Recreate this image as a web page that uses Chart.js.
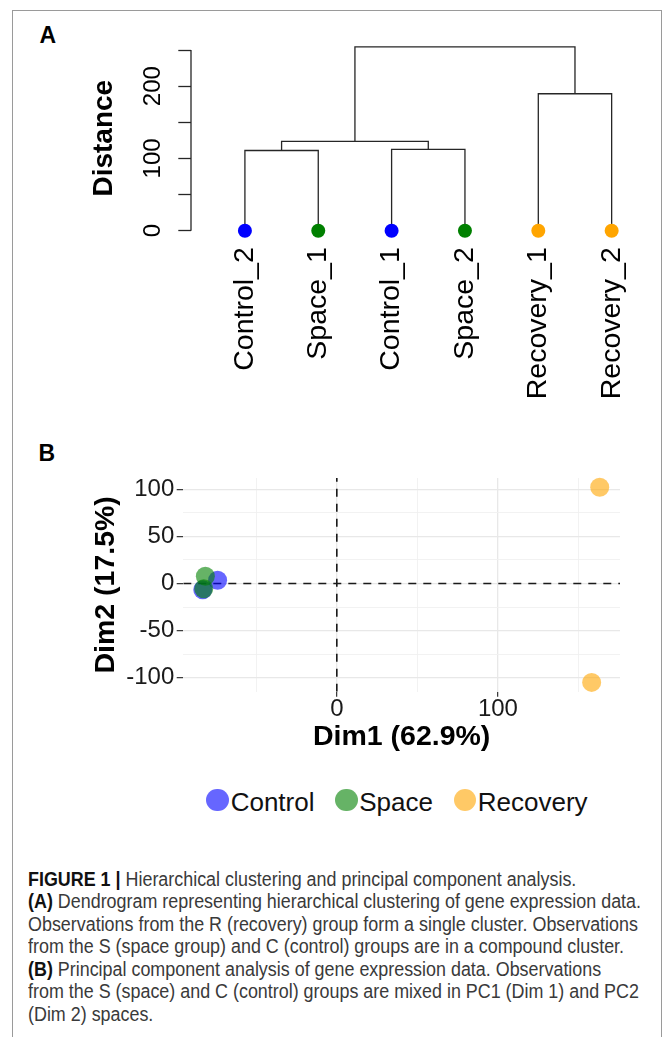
<!DOCTYPE html>
<html>
<head>
<meta charset="utf-8">
<script src="https://cdn.jsdelivr.net/npm/chart.js@4.4.0/dist/chart.umd.min.js"></script>
<style>
  html, body { margin: 0; padding: 0; background: #fff; }
  body { width: 663px; height: 1037px; position: relative; overflow: hidden; font-family: "Liberation Sans", Arial, sans-serif; }
  #frame { position: absolute; left: 11.5px; top: 10px; width: 650px; height: 1100px; border: 1.5px solid #9a9a9a; border-bottom: none; box-sizing: border-box; }
  canvas { position: absolute; left: 0; }
  #chartA { top: 0; width: 663px; height: 420px; }
  #chartB { top: 420px; width: 663px; height: 340px; }
  .panel { position: absolute; font-weight: bold; font-size: 23px; line-height: 23px; color: #000; }
  #legend { position: absolute; left: 206.4px; top: 788.7px; height: 26px; display: flex; gap: 20.5px; font-size: 26px; line-height: 26px; color: #111; white-space: nowrap; }
  .item { display: flex; align-items: center; gap: 1.7px; }
  .dot { width: 22.6px; height: 22.6px; border-radius: 50%; position: relative; top: -1.7px; }
  #caption { position: absolute; left: 27.5px; top: 867.5px; font-size: 19.5px; line-height: 22.6px; color: #3a3a3a; white-space: nowrap; transform-origin: 0 0; }
  #caption b { color: #111; }
</style>
</head>
<body>
<div id="frame"></div>
<div class="panel" style="left:39.5px;top:24.3px">A</div>
<div class="panel" style="left:38.5px;top:442px">B</div>
<canvas id="chartA" width="663" height="420"></canvas>
<canvas id="chartB" width="663" height="340"></canvas>
<div id="legend"></div>
<div id="caption"></div>
<script>
// panel A: dendrogram
const leafLabels = ["Control_2", "Space_1", "Control_1", "Space_2", "Recovery_1", "Recovery_2"];
const leafGroups = ["Control", "Space", "Control", "Space", "Recovery", "Recovery"];
// hclust style: negative = leaf position, positive = earlier merge
const merges = [[-1, -2], [-3, -4], [1, 2], [-5, -6], [3, 4]];
const mergeHeights = [111, 112.5, 123.5, 189.5, 254.5];
const distanceTicks = [0, 50, 100, 150, 200, 250];
const distanceLabels = [0, 100, 200];

// panel B: PCA
const groups = ["Control", "Space", "Recovery"];
const controlDim1 = [-74, -83.2];
const controlDim2 = [3.5, -6.6];
const spaceDim1 = [-81.6, -82.6];
const spaceDim2 = [7.7, -5.6];
const recoveryDim1 = [163.2, 158.2];
const recoveryDim2 = [102.2, -105];
const dim1Range = [-95.3, 175.8];
const dim2Range = [-114.9, 112];
const dim1Ticks = [-50, 0, 50, 100, 150];
const dim1Labels = [0, 100];
const dim2Ticks = [-100, -75, -50, -25, 0, 25, 50, 75, 100];
const dim2Labels = [-100, -50, 0, 50, 100];

const leafColors = { Control: "#0000ff", Space: "#008000", Recovery: "#ffa500" };
const pointColors = { Control: "rgba(0,0,255,0.6)", Space: "rgba(0,128,0,0.6)", Recovery: "rgba(255,165,0,0.6)" };

const captionLines = [
  ["FIGURE 1 |", " Hierarchical clustering and principal component analysis."],
  ["(A)", " Dendrogram representing hierarchical clustering of gene expression data."],
  ["", "Observations from the R (recovery) group form a single cluster. Observations"],
  ["", "from the S (space group) and C (control) groups are in a compound cluster."],
  ["(B)", " Principal component analysis of gene expression data. Observations"],
  ["", "from the S (space) and C (control) groups are mixed in PC1 (Dim 1) and PC2"],
  ["", "(Dim 2) spaces."]
];

Chart.defaults.font.family = '"Liberation Sans", Arial, sans-serif';
Chart.defaults.color = "#000";

// build dendrogram segments from merges
const nodes = [];
function nodePos(ref) {
  return ref < 0 ? { x: -ref, h: 0 } : nodes[ref - 1];
}
const dendroSets = merges.map((m, i) => {
  const a = nodePos(m[0]);
  const b = nodePos(m[1]);
  const h = mergeHeights[i];
  nodes.push({ x: (a.x + b.x) / 2, h: h });
  return {
    type: "line",
    data: [{ x: a.x, y: a.h }, { x: a.x, y: h }, { x: b.x, y: h }, { x: b.x, y: b.h }],
    borderColor: "#262626",
    borderWidth: 1.3,
    pointRadius: 0,
    tension: 0,
    clip: false,
  };
});

const leafDots = {
  type: "scatter",
  data: leafLabels.map((l, i) => ({ x: i + 1, y: 0 })),
  pointBackgroundColor: leafGroups.map((g) => leafColors[g]),
  pointBorderWidth: 0,
  pointRadius: 7,
  clip: false,
};

const distanceAxis = {
  id: "distanceAxis",
  afterDraw(chart) {
    const y = chart.scales.y;
    const ctx = chart.ctx;
    const x0 = y.right;
    ctx.save();
    ctx.strokeStyle = "#262626";
    ctx.lineWidth = 1.3;
    ctx.beginPath();
    ctx.moveTo(x0, y.getPixelForValue(distanceTicks[0]));
    ctx.lineTo(x0, y.getPixelForValue(distanceTicks[distanceTicks.length - 1]));
    ctx.stroke();
    ctx.fillStyle = "#000";
    ctx.font = '24px "Liberation Sans", Arial, sans-serif';
    ctx.textAlign = "center";
    ctx.textBaseline = "middle";
    distanceLabels.forEach((v) => {
      ctx.save();
      ctx.translate(x0 - 38, y.getPixelForValue(v));
      ctx.rotate(-Math.PI / 2);
      ctx.fillText(String(v), 0, 0);
      ctx.restore();
    });
    ctx.restore();
  },
};

new Chart(document.getElementById("chartA"), {
  type: "line",
  data: { datasets: [leafDots, ...dendroSets] },
  options: {
    responsive: false,
    animation: false,
    devicePixelRatio: 1,
    layout: { padding: { left: 80, right: 8.1, top: 45.7, bottom: 0 } },
    plugins: { legend: { display: false }, tooltip: { enabled: false } },
    scales: {
      x: {
        type: "linear",
        min: 0.265,
        max: 6.5,
        afterBuildTicks: (s) => {
          s.ticks = leafLabels.map((l, i) => ({ value: i + 1 }));
        },
        afterFit: (s) => {
          s.height = 189.3;
        },
        ticks: {
          autoSkip: false,
          minRotation: 90,
          maxRotation: 90,
          padding: 16.5,
          color: "#000",
          font: { size: 28.5 },
          callback: (v) => leafLabels[v - 1],
        },
        grid: { display: false, drawTicks: false },
        border: { display: false },
      },
      y: {
        type: "linear",
        min: 0,
        max: 256,
        afterBuildTicks: (s) => {
          s.ticks = distanceTicks.map((v) => ({ value: v }));
        },
        afterFit: (s) => {
          s.width = 111;
        },
        ticks: { display: false },
        grid: { drawOnChartArea: false, drawTicks: true, tickLength: 12.7, tickColor: "#262626", tickWidth: 1.3 },
        border: { display: false },
        title: {
          display: true,
          text: "Distance",
          color: "#000",
          font: { size: 28, weight: "bold" },
          padding: { top: 7.2, bottom: 0 },
        },
      },
    },
  },
  plugins: [distanceAxis],
});

// PCA scatter
function pts(xs, ys) {
  return xs.map((x, i) => ({ x: x, y: ys[i] }));
}
const groupData = { Control: pts(controlDim1, controlDim2), Space: pts(spaceDim1, spaceDim2), Recovery: pts(recoveryDim1, recoveryDim2) };
const groupOrder = { Control: 3, Space: 2, Recovery: 1 };

const pcaSets = groups.map((g) => ({
  type: "scatter",
  label: g,
  data: groupData[g],
  backgroundColor: pointColors[g],
  borderWidth: 0,
  pointRadius: 9.5,
  order: groupOrder[g],
  clip: false,
}));
const refLines = [
  { type: "line", data: [{ x: dim1Range[0], y: 0 }, { x: dim1Range[1], y: 0 }] },
  { type: "line", data: [{ x: 0, y: dim2Range[0] }, { x: 0, y: dim2Range[1] }] },
].map((d) => Object.assign(d, { borderColor: "#1a1a1a", borderWidth: 1.6, borderDash: [8, 7], pointRadius: 0, order: 10 }));

const isMajor1 = (v) => dim1Labels.includes(v);
const isMajor2 = (v) => dim2Labels.includes(v);

new Chart(document.getElementById("chartB"), {
  type: "scatter",
  data: { datasets: [...pcaSets, ...refLines] },
  options: {
    responsive: false,
    animation: false,
    devicePixelRatio: 1,
    layout: { padding: { left: 0, right: 43, top: 58, bottom: 0 } },
    plugins: { legend: { display: false }, tooltip: { enabled: false } },
    scales: {
      x: {
        type: "linear",
        min: dim1Range[0],
        max: dim1Range[1],
        afterBuildTicks: (s) => {
          s.ticks = dim1Ticks.map((v) => ({ value: v }));
        },
        afterFit: (s) => {
          s.height = 68.3;
        },
        ticks: {
          autoSkip: false,
          maxRotation: 0,
          padding: 0.5,
          color: "#1a1a1a",
          font: { size: 24, lineHeight: 1 },
          callback: (v) => (isMajor1(v) ? String(v) : ""),
        },
        grid: {
          color: (c) => (c.tick && isMajor1(c.tick.value) ? "#e8e8e8" : "#f1f1f1"),
          lineWidth: (c) => (c.tick && isMajor1(c.tick.value) ? 1.3 : 0.9),
          tickLength: 5,
          tickColor: (c) => (c.tick && isMajor1(c.tick.value) ? "#333" : "rgba(0,0,0,0)"),
          tickWidth: 1.2,
        },
        border: { display: false },
        title: {
          display: true,
          text: "Dim1 (62.9%)",
          color: "#000",
          font: { size: 28.5, weight: "bold" },
          padding: { top: 0, bottom: 6.2 },
        },
      },
      y: {
        type: "linear",
        min: dim2Range[0],
        max: dim2Range[1],
        afterBuildTicks: (s) => {
          s.ticks = dim2Ticks.map((v) => ({ value: v }));
        },
        afterFit: (s) => {
          s.width = 183.3;
        },
        ticks: {
          autoSkip: false,
          padding: 2.4,
          color: "#1a1a1a",
          font: { size: 24, lineHeight: 1 },
          callback: (v) => (isMajor2(v) ? String(v) : ""),
        },
        grid: {
          color: (c) => (c.tick && isMajor2(c.tick.value) ? "#e8e8e8" : "#f1f1f1"),
          lineWidth: (c) => (c.tick && isMajor2(c.tick.value) ? 1.3 : 0.9),
          tickLength: 6.6,
          tickColor: (c) => (c.tick && isMajor2(c.tick.value) ? "#333" : "rgba(0,0,0,0)"),
          tickWidth: 1.2,
        },
        border: { display: false },
        title: {
          display: true,
          text: "Dim2 (17.5%)",
          color: "#000",
          font: { size: 28.5, weight: "bold" },
          padding: { top: 88.9, bottom: 0 },
        },
      },
    },
  },
});

// legend
const legend = document.getElementById("legend");
groups.forEach((g) => {
  const item = document.createElement("div");
  item.className = "item";
  const dot = document.createElement("span");
  dot.className = "dot";
  dot.style.background = pointColors[g];
  const txt = document.createElement("span");
  txt.textContent = g;
  item.appendChild(dot);
  item.appendChild(txt);
  legend.appendChild(item);
});

// caption, squeezed to the condensed width of the original
const caption = document.getElementById("caption");
const lineEls = captionLines.map(([b, t]) => {
  const div = document.createElement("div");
  if (b) {
    const bold = document.createElement("b");
    bold.textContent = b;
    div.appendChild(bold);
  }
  div.appendChild(document.createTextNode(t));
  caption.appendChild(div);
  return div;
});
const probe = document.createElement("span");
probe.innerHTML = lineEls[1].innerHTML;
lineEls[1].innerHTML = "";
lineEls[1].appendChild(probe);
const scale = 613 / probe.getBoundingClientRect().width;
caption.style.transform = "scaleX(" + scale + ")";
</script>
</body>
</html>
